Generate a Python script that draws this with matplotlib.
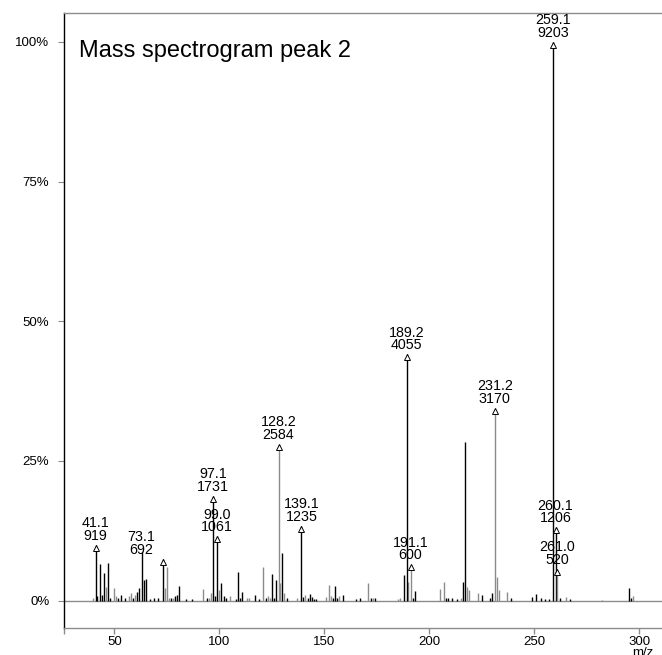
import matplotlib
matplotlib.use("Agg")
import matplotlib.pyplot as plt
import matplotlib.transforms as mtransforms

plt.rcParams['font.family'] = ['Liberation Sans', 'DejaVu Sans']

# unlabelled peaks: m/z, relative intensity (%), drawn gray?
small_mz = [40, 42, 43, 44, 45, 46, 47, 48, 50, 51, 52, 53, 55, 57, 58, 59, 60, 61, 62, 63,
            64, 65, 67, 69, 71, 74, 75, 76, 77, 78, 79, 80, 81, 84, 87, 92, 94, 95, 96, 98,
            100, 101, 102, 103, 105, 108, 109, 110, 111, 113, 114, 117, 119, 121, 122, 123,
            124, 125, 126, 127, 129, 130, 131, 132, 137, 140, 141, 142, 143, 144, 145, 146,
            151, 152, 153, 154, 155, 156, 157, 159, 165, 167, 171, 172, 173, 174, 185, 186,
            188, 190, 192, 193, 205, 207, 208, 209, 211, 213, 215, 216, 217, 218, 219, 223,
            225, 229, 230, 232, 233, 237, 239, 249, 251, 253, 255, 257, 262, 265, 267, 282,
            295, 296, 297]
small_pct = [0.5, 0.8, 6.6, 1.0, 4.9, 2.5, 6.7, 0.5, 2.3, 0.8, 0.4, 1.0, 0.4, 0.8, 1.3, 0.5,
             1.1, 1.6, 2.3, 8.8, 3.7, 3.9, 0.3, 0.5, 0.4, 2.3, 6.0, 0.5, 0.4, 0.4, 0.8, 1.0,
             2.7, 0.3, 0.3, 2.1, 0.5, 0.4, 1.4, 0.8, 1.9, 3.2, 0.8, 0.5, 0.9, 0.3, 5.1, 0.5,
             1.6, 0.5, 0.5, 1.0, 0.3, 6.0, 0.5, 0.9, 0.4, 4.7, 0.5, 3.7, 3.1, 8.5, 1.4, 0.4,
             0.5, 0.7, 1.1, 0.4, 1.2, 0.6, 0.3, 0.3, 0.6, 2.9, 0.8, 0.4, 2.6, 0.4, 0.8, 1.0,
             0.3, 0.4, 3.1, 0.5, 0.5, 0.4, 0.3, 0.4, 4.6, 3.4, 0.5, 1.8, 2.1, 3.4, 0.5, 0.5,
             0.4, 0.3, 0.5, 3.4, 28.4, 2.4, 2.0, 1.3, 1.0, 0.4, 1.3, 4.3, 2.0, 1.6, 0.4, 0.7,
             1.2, 0.4, 0.3, 0.3, 0.4, 0.6, 0.3, 0.2, 2.2, 0.4, 0.8]
small_gray = [1, 0, 0, 0, 0, 1, 0, 0, 1, 1, 0, 0, 0, 1, 1, 0, 1, 0, 0, 0, 0, 0, 0, 0, 0, 1, 1,
              1, 0, 1, 0, 0, 0, 0, 0, 1, 0, 1, 1, 0, 1, 0, 0, 0, 1, 0, 0, 0, 0, 1, 1, 0, 0, 1,
              0, 1, 1, 0, 0, 0, 1, 0, 1, 0, 1, 0, 1, 0, 0, 0, 0, 0, 1, 1, 1, 0, 0, 0, 1, 0, 0,
              0, 1, 0, 1, 0, 1, 1, 0, 1, 0, 0, 1, 1, 0, 0, 0, 0, 1, 0, 0, 1, 1, 1, 0, 0, 0, 1,
              1, 1, 0, 0, 0, 0, 0, 0, 0, 1, 0, 1, 0, 0, 1]

# labelled peaks
peak_mz = [41.1, 73.1, 97.1, 99.0, 128.2, 139.1, 189.2, 191.1, 231.2, 259.1, 260.1, 261.0]
peak_abund = [919, 692, 1731, 1061, 2584, 1235, 4055, 600, 3170, 9203, 1206, 520]
peak_gray = [0, 0, 0, 0, 1, 0, 0, 1, 1, 0, 0, 1]
label_mz = [41.1, 62.8, 97.1, 99.0, 128.2, 139.1, 189.2, 191.1, 231.2, 259.1, 260.1, 261.0]

xticks = [50, 100, 150, 200, 250, 300]
yticks = [0, 25, 50, 75, 100]

GRAY = "#8c8c8c"
base = max(peak_abund)

fig = plt.figure(figsize=(6.62, 6.55), dpi=100)
ax = fig.add_axes([64 / 662, 1 - 628 / 655, 598 / 662, 615 / 655])
ax.set_xlim(26.05, 310.8)
ax.set_ylim(-4.88, 105.15)

for m, p, g in zip(small_mz, small_pct, small_gray):
    ax.vlines(m, 0, p, color=GRAY if g else "black", lw=1)

# open triangle sits just under the peak top
tri = mtransforms.offset_copy(ax.transData, fig=fig, x=0, y=-3, units="dots")
for m, a, g, lx in zip(peak_mz, peak_abund, peak_gray, label_mz):
    pct = a / base * 100
    ax.vlines(m, 0, pct, color=GRAY if g else "black", lw=1)
    ax.plot([m], [pct], marker="^", ms=5, mfc="white", mec="black", mew=0.7,
            transform=tri, zorder=4)
    ax.annotate(f"{m:.1f}\n{a}", xy=(lx, pct), xytext=(0, 1.5), textcoords="offset points",
                ha="center", va="bottom", fontsize=10.3, linespacing=0.88, zorder=5)

ax.axhline(0, color=GRAY, lw=1, zorder=1)

ax.spines["right"].set_visible(False)
ax.spines["left"].set_color("black")
ax.spines["top"].set_color(GRAY)
ax.spines["bottom"].set_color(GRAY)
for s in ["left", "top", "bottom"]:
    ax.spines[s].set_linewidth(1)

ax.set_yticks(yticks)
ax.set_yticklabels([f"{v}%" for v in yticks], fontsize=9.5)
ax.tick_params(axis="y", length=4.5, width=0.8, color=GRAY, pad=6)
ax.set_xticks([26.05] + xticks)
ax.set_xticklabels([""] + [str(v) for v in xticks], fontsize=9.5)
ax.tick_params(axis="x", length=4, width=1, color=GRAY, pad=2)

ax.text(0.025, 0.928, "Mass spectrogram peak 2", transform=ax.transAxes,
        fontsize=17, va="baseline", ha="left")
fig.text(643 / 662, 1 - 647 / 655, "m/z", ha="center", va="top", fontsize=9.5)

fig.savefig("out.png", dpi=100)
